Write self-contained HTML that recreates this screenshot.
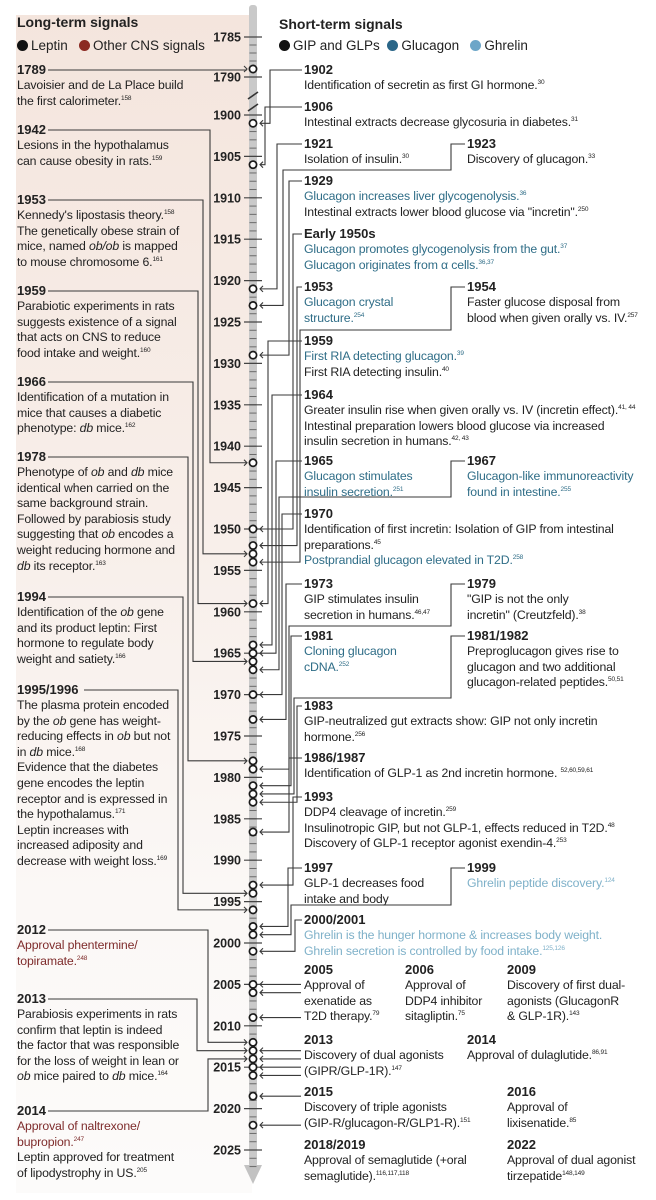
<!DOCTYPE html>
<html><head><meta charset="utf-8">
<style>
html,body{margin:0;padding:0;background:#fff;}
#root{position:relative;width:656px;height:1200px;overflow:hidden;font-family:"Liberation Sans",sans-serif;color:#222;}
#panel{position:absolute;left:16px;top:15px;width:236px;height:1178px;background:linear-gradient(#f4e5dd 0%,#f8efea 45%,#fbf8f6 75%,#fcfbfa 100%);}
.ev{position:absolute;font-size:12.3px;line-height:15.6px;white-space:nowrap;letter-spacing:-0.15px;color:#222;}
.ev b{display:block;font-size:13px;line-height:16px;letter-spacing:0;}
.ev sup{font-size:6.5px;vertical-align:5px;line-height:0;}
.t{color:#2f6d87;} .g{color:#7fb1c9;} .r{color:#7e2b2b;}
.hd{position:absolute;font-weight:bold;font-size:14px;}
.lg{position:absolute;font-size:13.5px;white-space:nowrap;}
.dot{display:inline-block;width:11px;height:11px;border-radius:50%;vertical-align:-1px;margin-right:3px;}
svg{position:absolute;left:0;top:0;}
</style></head>
<body>
<div id="root">
<div id="panel"></div>
<div class="hd" style="left:17px;top:14px">Long-term signals</div>
<div class="lg" style="left:17px;top:38px"><span class="dot" style="background:#111"></span>Leptin &nbsp;&nbsp;<span class="dot" style="background:#8b2a22"></span>Other CNS signals</div>
<div class="hd" style="left:279px;top:16px">Short-term signals</div>
<div class="lg" style="left:279px;top:38px"><span class="dot" style="background:#111"></span>GIP and GLPs &nbsp;<span class="dot" style="background:#2a6688"></span>Glucagon &nbsp;&nbsp;<span class="dot" style="background:#6da6c8"></span>Ghrelin</div>

<svg id="chart" width="656" height="1200"></svg>

<!-- left events -->
<div class="ev" style="left:17px;top:62px"><b>1789</b>Lavoisier and de La Place build<br>the first calorimeter.<sup>158</sup></div>
<div class="ev" style="left:17px;top:122px"><b>1942</b>Lesions in the hypothalamus<br>can cause obesity in rats.<sup>159</sup></div>
<div class="ev" style="left:17px;top:192px"><b>1953</b>Kennedy's lipostasis theory.<sup>158</sup><br>The genetically obese strain of<br>mice, named <i>ob/ob</i> is mapped<br>to mouse chromosome 6.<sup>161</sup></div>
<div class="ev" style="left:17px;top:283px"><b>1959</b>Parabiotic experiments in rats<br>suggests existence of a signal<br>that acts on CNS to reduce<br>food intake and weight.<sup>160</sup></div>
<div class="ev" style="left:17px;top:374px"><b>1966</b>Identification of a mutation in<br>mice that causes a diabetic<br>phenotype: <i>db</i> mice.<sup>162</sup></div>
<div class="ev" style="left:17px;top:449px"><b>1978</b>Phenotype of <i>ob</i> and <i>db</i> mice<br>identical when carried on the<br>same background strain.<br>Followed by parabiosis study<br>suggesting that <i>ob</i> encodes a<br>weight reducing hormone and<br><i>db</i> its receptor.<sup>163</sup></div>
<div class="ev" style="left:17px;top:589px"><b>1994</b>Identification of the <i>ob</i> gene<br>and its product leptin: First<br>hormone to regulate body<br>weight and satiety.<sup>166</sup></div>
<div class="ev" style="left:17px;top:682px"><b>1995/1996</b>The plasma protein encoded<br>by the <i>ob</i> gene has weight-<br>reducing effects in <i>ob</i> but not<br>in <i>db</i> mice.<sup>168</sup><br>Evidence that the diabetes<br>gene encodes the leptin<br>receptor and is expressed in<br>the hypothalamus.<sup>171</sup><br>Leptin increases with<br>increased adiposity and<br>decrease with weight loss.<sup>169</sup></div>
<div class="ev" style="left:17px;top:922px"><b>2012</b><span class="r">Approval phentermine/<br>topiramate.<sup>248</sup></span></div>
<div class="ev" style="left:17px;top:991px"><b>2013</b>Parabiosis experiments in rats<br>confirm that leptin is indeed<br>the factor that was responsible<br>for the loss of weight in lean or<br><i>ob</i> mice paired to <i>db</i> mice.<sup>164</sup></div>
<div class="ev" style="left:17px;top:1103px"><b>2014</b><span class="r">Approval of naltrexone/<br>bupropion.<sup>247</sup></span><br>Leptin approved for treatment<br>of lipodystrophy in US.<sup>205</sup></div>

<!-- right events -->
<div class="ev" style="left:304px;top:62px"><b>1902</b>Identification of secretin as first GI hormone.<sup>30</sup></div>
<div class="ev" style="left:304px;top:99px"><b>1906</b>Intestinal extracts decrease glycosuria in diabetes.<sup>31</sup></div>
<div class="ev" style="left:304px;top:136px"><b>1921</b>Isolation of insulin.<sup>30</sup></div>
<div class="ev" style="left:467px;top:136px"><b>1923</b>Discovery of glucagon.<sup>33</sup></div>
<div class="ev" style="left:304px;top:173px"><b>1929</b><span class="t">Glucagon increases liver glycogenolysis.<sup>36</sup></span><br>Intestinal extracts lower blood glucose via "incretin".<sup>250</sup></div>
<div class="ev" style="left:304px;top:226px"><b>Early 1950s</b><span class="t">Glucagon promotes glycogenolysis from the gut.<sup>37</sup><br>Glucagon originates from α cells.<sup>36,37</sup></span></div>
<div class="ev" style="left:304px;top:279px"><b>1953</b><span class="t">Glucagon crystal<br>structure.<sup>254</sup></span></div>
<div class="ev" style="left:467px;top:279px"><b>1954</b>Faster glucose disposal from<br>blood when given orally vs. IV.<sup>257</sup></div>
<div class="ev" style="left:304px;top:333px"><b>1959</b><span class="t">First RIA detecting glucagon.<sup>39</sup></span><br>First RIA detecting insulin.<sup>40</sup></div>
<div class="ev" style="left:304px;top:387px"><b>1964</b>Greater insulin rise when given orally vs. IV (incretin effect).<sup>41, 44</sup><br>Intestinal preparation lowers blood glucose via increased<br>insulin secretion in humans.<sup>42, 43</sup></div>
<div class="ev" style="left:304px;top:453px"><b>1965</b><span class="t">Glucagon stimulates<br>insulin secretion.<sup>251</sup></span></div>
<div class="ev" style="left:467px;top:453px"><b>1967</b><span class="t">Glucagon-like immunoreactivity<br>found in intestine.<sup>255</sup></span></div>
<div class="ev" style="left:304px;top:506px"><b>1970</b>Identification of first incretin: Isolation of GIP from intestinal<br>preparations.<sup>45</sup><br><span class="t">Postprandial glucagon elevated in T2D.<sup>258</sup></span></div>
<div class="ev" style="left:304px;top:576px"><b>1973</b>GIP stimulates insulin<br>secretion in humans.<sup>46,47</sup></div>
<div class="ev" style="left:467px;top:576px"><b>1979</b>"GIP is not the only<br>incretin" (Creutzfeld).<sup>38</sup></div>
<div class="ev" style="left:304px;top:628px"><b>1981</b><span class="t">Cloning glucagon<br>cDNA.<sup>252</sup></span></div>
<div class="ev" style="left:467px;top:628px"><b>1981/1982</b>Preproglucagon gives rise to<br>glucagon and two additional<br>glucagon-related peptides.<sup>50,51</sup></div>
<div class="ev" style="left:304px;top:698px"><b>1983</b>GIP-neutralized gut extracts show: GIP not only incretin<br>hormone.<sup>256</sup></div>
<div class="ev" style="left:304px;top:750px"><b>1986/1987</b>Identification of GLP-1 as 2nd incretin hormone. <sup>52,60,59,61</sup></div>
<div class="ev" style="left:304px;top:789px"><b>1993</b>DDP4 cleavage of incretin.<sup>259</sup><br>Insulinotropic GIP, but not GLP-1, effects reduced in T2D.<sup>48</sup><br>Discovery of GLP-1 receptor agonist exendin-4.<sup>253</sup></div>
<div class="ev" style="left:304px;top:860px"><b>1997</b>GLP-1 decreases food<br>intake and body</div>
<div class="ev" style="left:467px;top:860px"><b>1999</b><span class="g">Ghrelin peptide discovery.<sup>124</sup></span></div>
<div class="ev" style="left:304px;top:912px"><b>2000/2001</b><span class="g">Ghrelin is the hunger hormone &amp; increases body weight.<br>Ghrelin secretion is controlled by food intake.<sup>125,126</sup></span></div>
<div class="ev" style="left:304px;top:962px"><b>2005</b>Approval of<br>exenatide as<br>T2D therapy.<sup>79</sup></div>
<div class="ev" style="left:405px;top:962px"><b>2006</b>Approval of<br>DDP4 inhibitor<br>sitagliptin.<sup>75</sup></div>
<div class="ev" style="left:507px;top:962px"><b>2009</b>Discovery of first dual-<br>agonists (GlucagonR<br>&amp; GLP-1R).<sup>143</sup></div>
<div class="ev" style="left:304px;top:1032px"><b>2013</b>Discovery of dual agonists<br>(GIPR/GLP-1R).<sup>147</sup></div>
<div class="ev" style="left:467px;top:1032px"><b>2014</b>Approval of dulaglutide.<sup>86,91</sup></div>
<div class="ev" style="left:304px;top:1084px"><b>2015</b>Discovery of triple agonists<br>(GIP-R/glucagon-R/GLP1-R).<sup>151</sup></div>
<div class="ev" style="left:507px;top:1084px"><b>2016</b>Approval of<br>lixisenatide.<sup>85</sup></div>
<div class="ev" style="left:304px;top:1137px"><b>2018/2019</b>Approval of semaglutide (+oral<br>semaglutide).<sup>116,117,118</sup></div>
<div class="ev" style="left:507px;top:1137px"><b>2022</b>Approval of dual agonist<br>tirzepatide<sup>148,149</sup></div>
</div>

<script>
// ---- data ----
const tickYears = [1785,1790,1900,1905,1910,1915,1920,1925,1930,1935,1940,1945,1950,1955,1960,1965,1970,1975,1980,1985,1990,1995,2000,2005,2010,2015,2020,2025];
const circleYears = [1789,1901,1906,1921,1923,1929,1942,1950,1952,1953,1954,1959,1964,1965,1966,1967,1970,1973,1978,1979,1981,1982,1983,1986.6,1993,1994,1996,1998,1999,2001,2005,2006,2009,2012,2013,2014,2015,2016,2018.5,2022];
const leftEventYears = [1789,1942,1953,1959,1966,1978,1994,1996,2012,2013,2014];
const rightEventYears = [1901,1906,1921,1923,1929,1950,1952,1954,1959,1964,1965,1967,1970,1973,1979,1981,1982,1983,1986.6,1993,1998,1999,2001];
const directArrowYears = [2005,2006,2009,2013,2014,2015,2016,2018.5,2022];

// ---- layout (connector routing) ----
const leftRoutes = [[70,0,48],[130,210,48],[200,203,48],[291,198,48],[382,193,48],[457,188,48],[597,183,48],[690,178,84],[930,208,48],[999,197,48],[1111,208,48]];
const rightRoutes = [[70,270,304],[107,265,304],[144,277,304],[144,283,467,170],[181,289,304],[234,293,304],[287,297,304],[287,300,467,330],[341,268,304],[395,272,304],[461,276,304],[461,279,467,497],[514,282,304],[584,286,304],[584,289,467,626],[636,291,304],[636,294,467,698],[706,297,304],[758,289,304],[797,293,304],[868,288,304],[868,291,467,905],[920,295,304]];

const svg = document.getElementById('chart');
const NS = 'http://www.w3.org/2000/svg';
const AX = 253;
function yOf(yr){ return yr < 1800 ? 37 + (yr-1785)*8 : 115 + (yr-1900)*8.28; }
function mk(tag, attrs){ const e=document.createElementNS(NS,tag); for(const k in attrs) e.setAttribute(k,attrs[k]); svg.appendChild(e); return e; }

let bar = mk('rect',{x:AX-4,y:5,width:8,height:1162,fill:'#c9c9c9',rx:3});


let head = mk('polygon',{points:`${AX-9},1165 ${AX+9},1165 ${AX},1184`,fill:'#c2c2c2'});



const minorYears = [];
for (let y=1785;y<=1790;y++) minorYears.push(y);
for (let y=1900;y<=2027;y++) minorYears.push(y);
minorYears.forEach(yr=>{
  let t = mk('line',{x1:AX-3.5,x2:AX+3.5,y1:yOf(yr),y2:yOf(yr),stroke:'#6a6a6a','stroke-width':1});
  
  
});
[[92,99],[104,111]].forEach(p=>{
  let b = mk('line',{x1:AX-5,y1:p[1],x2:AX+5,y2:p[0],stroke:'#333','stroke-width':1.6});
  
  
});
tickYears.forEach(yr=>{
  const y = yOf(yr);
  let l = mk('line',{x1:AX-9,x2:AX+9,y1:y,y2:y,stroke:'#444','stroke-width':1.2});
  
  
  let t = mk('text',{x:AX-12,y:y+4.5,'text-anchor':'end','font-family':'Liberation Sans, sans-serif','font-size':12.5,'font-weight':'bold',fill:'#222'});
  t.textContent = yr;
  
  
});

const LS = {stroke:'#3a3a3a','stroke-width':1.1,fill:'none'};
function path(d,name){ const p=mk('path',Object.assign({d},LS));   }

leftEventYears.forEach((yr,i)=>{
  const [ly,vx,sx] = leftRoutes[i];
  const cy = yOf(yr);
  const ax = AX-6;
  let d = vx ? `M${sx},${ly} H${vx} V${cy} H${ax}` : `M${sx},${ly} H${ax}`;
  path(d + ` M${ax-3},${cy-3} L${ax},${cy} L${ax-3},${cy+3}`, 'left-connector');
});
rightEventYears.forEach((yr,i)=>{
  const r = rightRoutes[i];
  const cy = yOf(yr);
  const ax = AX+7;
  let d;
  if (r.length===4){ d = `M${r[2]-2},${r[0]} H${r[2]-16} V${r[3]} H${r[1]} V${cy} H${ax}`; }
  else { d = `M${r[2]-2},${r[0]} H${r[1]} V${cy} H${ax}`; }
  path(d + ` M${ax+3},${cy-3} L${ax},${cy} L${ax+3},${cy+3}`, 'right-connector');
});
directArrowYears.forEach(yr=>{
  const cy = yOf(yr), ax = AX+7;
  path(`M301,${cy} H${ax} M${ax+3},${cy-3} L${ax},${cy} L${ax+3},${cy+3}`, 'direct-arrow');
});
circleYears.forEach(yr=>{
  let c = mk('circle',{cx:AX,cy:yOf(yr),r:3.6,fill:'#fff',stroke:'#1a1a1a','stroke-width':1.7});
  
  
});
</script>
</body></html>
